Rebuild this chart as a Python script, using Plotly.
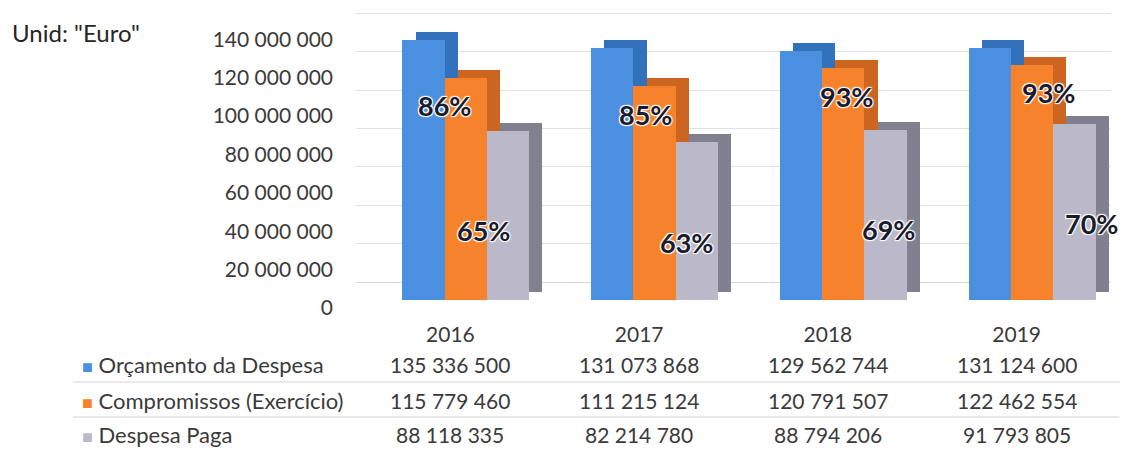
import plotly.graph_objects as go

# ---------------- data ----------------
years = ["2016", "2017", "2018", "2019"]
series_names = ["Orçamento da Despesa", "Compromissos (Exercício)", "Despesa Paga"]
orcamento = [135336500, 131073868, 129562744, 131124600]
compromissos = [115779460, 111215124, 120791507, 122462554]
despesa_paga = [88118335, 82214780, 88794206, 91793805]
pct_compromissos = ["86%", "85%", "93%", "93%"]
pct_paga = ["65%", "63%", "69%", "70%"]
unit_label = 'Unid: "Euro"'

# ---------------- styling ----------------
FONT = "Lato"
front_colors = ["#4a8fe0", "#f6822c", "#bbb8c9"]
side_colors = ["#3272bd", "#cc6520", "#80808e"]
text_color = "#3a3a3a"

# the page body has an 8px margin; lay out in page pixels and compensate
BODY = 8
W, H = 1144 - BODY, 450 - BODY
PLOT_L, PLOT_R = 355.5 - BODY, 1111.5 - BODY
PLOT_T, PLOT_B = 8 - BODY, 300 - BODY
PX_PER_UNIT = 1.92e-6          # pixels per euro
BAR_W = 0.224
OFFSETS = [-0.254, -0.030, 0.194]
DEPTH_X = 0.07
DEPTH_Y = 8 / PX_PER_UNIT
WALL_SHIFT = 18 / PX_PER_UNIT


def px_to_paper_x(px):
    return (px - BODY - PLOT_L) / (PLOT_R - PLOT_L)


def px_to_paper_y(py):
    return (PLOT_B - (py - BODY)) / (PLOT_B - PLOT_T)


y_top = (PLOT_B - PLOT_T) / PX_PER_UNIT

fig = go.Figure()

all_series = [orcamento, compromissos, despesa_paga]
for k, (name, vals) in enumerate(zip(series_names, all_series)):
    # depth (side + top) of the pseudo-3D bar
    fig.add_trace(go.Bar(
        x=years, y=vals, base=[DEPTH_Y] * len(vals),
        width=BAR_W, offset=OFFSETS[k] + DEPTH_X,
        marker=dict(color=side_colors[k], line=dict(width=0)),
        showlegend=False, hoverinfo="skip",
    ))
    # front face
    fig.add_trace(go.Bar(
        x=years, y=vals, name=name,
        width=BAR_W, offset=OFFSETS[k],
        marker=dict(color=front_colors[k], line=dict(width=0)),
        showlegend=False,
    ))

# invisible helper trace so the back-wall grid axis is drawn
fig.add_trace(go.Scatter(
    x=years, y=orcamento, yaxis="y2", mode="markers",
    marker=dict(opacity=0), hoverinfo="skip", showlegend=False,
))

annotations = []
label_font = dict(family=FONT, size=27, color="#1b1b2e", weight="bold",
                  shadow="1px 1px 1px #ffffff, -1px -1px 1px #ffffff, 1px -1px 1px #ffffff, -1px 1px 1px #ffffff")
for i in range(len(years)):
    annotations.append(dict(
        x=i, y=compromissos[i], xref="x", yref="y", text=pct_compromissos[i],
        showarrow=False, xanchor="center", yanchor="middle",
        xshift=-6 + 12.5 * i, yshift=-28, font=label_font,
    ))
    annotations.append(dict(
        x=i, y=despesa_paga[i], xref="x", yref="y", text=pct_paga[i],
        showarrow=False, xanchor="center", yanchor="middle",
        xshift=33 + 14 * i, yshift=-100, font=label_font,
    ))

# data table below the chart
row_px = [364, 400, 434]
for r, (name, vals) in enumerate(zip(series_names, all_series)):
    annotations.append(dict(
        x=px_to_paper_x(80), y=px_to_paper_y(row_px[r]), xref="paper", yref="paper",
        text=f"<span style='color:{front_colors[r]}; font-size:18px'>■</span> {name}",
        showarrow=False, xanchor="left", yanchor="middle", borderpad=0,
        font=dict(family=FONT, size=22, color=text_color),
    ))
    for i, v in enumerate(vals):
        annotations.append(dict(
            x=i, y=px_to_paper_y(row_px[r]), xref="x", yref="paper",
            text=f"{v:,}".replace(",", " "),
            showarrow=False, xanchor="center", yanchor="middle", borderpad=0,
            font=dict(family=FONT, size=21, color=text_color),
        ))

annotations.append(dict(
    x=px_to_paper_x(9), y=px_to_paper_y(32), xref="paper", yref="paper",
    text=unit_label, showarrow=False, xanchor="left", yanchor="middle",
    font=dict(family=FONT, size=24, color="#262626"),
))

shapes = []
for py in [382, 417]:
    shapes.append(dict(
        type="line", xref="paper", yref="paper",
        x0=px_to_paper_x(72), x1=px_to_paper_x(1120),
        y0=px_to_paper_y(py), y1=px_to_paper_y(py),
        line=dict(color="#d4d4d4", width=1),
    ))

fig.update_layout(
    width=W, height=H,
    margin=dict(l=PLOT_L, r=W - PLOT_R, t=PLOT_T, b=H - PLOT_B, pad=0),
    paper_bgcolor="white", plot_bgcolor="white",
    barmode="overlay", bargap=0,
    separators=", ",
    showlegend=False,
    xaxis=dict(
        type="category", range=[-0.5, 3.5],
        showgrid=False, showline=False, zeroline=False, ticks="",
        tickfont=dict(family=FONT, size=21, color=text_color),
        ticklabelstandoff=20,
    ),
    yaxis=dict(
        range=[0, y_top], tick0=0, dtick=20e6, tickformat=",d",
        showgrid=False, zeroline=False, showline=False, ticks="",
        tickfont=dict(family=FONT, size=21, color=text_color),
        ticklabelstandoff=22, ticklabelshift=8,
    ),
    yaxis2=dict(
        overlaying="y", side="left",
        range=[-WALL_SHIFT, y_top - WALL_SHIFT], tick0=0, dtick=20e6,
        showgrid=True, gridcolor="#e1e1e1", gridwidth=1,
        zeroline=True, zerolinecolor="#d9d9d9", zerolinewidth=1,
        showticklabels=False, ticks="", showline=False,
    ),
    annotations=annotations,
    shapes=shapes,
    font=dict(family=FONT),
)

fig.write_html("out.html")
